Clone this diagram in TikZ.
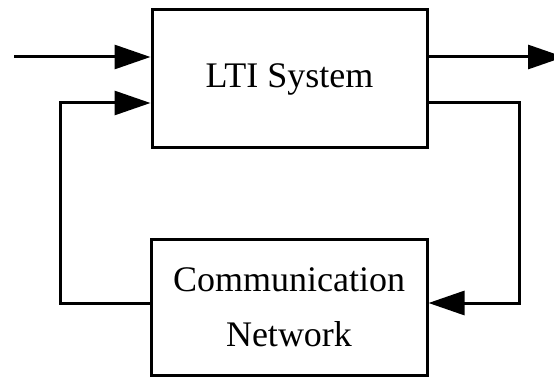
\documentclass[tikz,border=0pt]{standalone}
\usepackage{fontspec}
\setmainfont{Liberation Serif}
\usetikzlibrary{arrows.meta}
\begin{document}
\begin{tikzpicture}[x=1pt,y=-1pt,
  wire/.style={line width=3pt, line join=miter},
  conn/.style={wire, -{Triangle[length=36pt,width=24pt]}},
  block/.style={draw, line width=3pt, rectangle, inner sep=0pt,
    font=\fontsize{36}{55}\selectfont, align=center}]
\useasboundingbox (0,0) rectangle (554,377);
% the plant and the network blocks
\node[block, minimum width=275pt, minimum height=138pt] (sys) at (289.5,79) {LTI System};
\node[block, minimum width=276pt, minimum height=136pt] (net) at (289,307) {Communication\\Network};
% external input and output ends (the output tip runs past the page edge)
\coordinate (uext) at (14,57);
\coordinate (yext) at (564,57);
\draw[conn] (uext) -- (sys.west |- uext);
\draw[conn] (sys.east |- yext) -- (yext);
% feedback loop through the network
\coordinate (rturn) at (519,103);
\coordinate (rdown) at (519,303);
\coordinate (ldown) at (60,303);
\coordinate (lturn) at (60,103);
\draw[conn] (sys.east |- rturn) -- (rturn) -- (rdown) -- (net.east |- rdown);
\draw[conn] (net.west |- ldown) -- (ldown) -- (lturn) -- (sys.west |- lturn);
\end{tikzpicture}
\end{document}
